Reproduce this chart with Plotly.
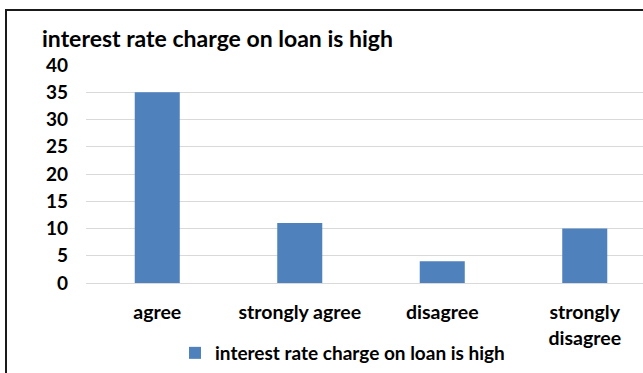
import plotly.graph_objects as go

categories = ["agree", "strongly agree", "disagree", "strongly disagree"]
tick_labels = ["agree", "strongly agree", "disagree", "strongly<br>disagree"]
values = [35, 11, 4, 10]
y_ticks = [0, 5, 10, 15, 20, 25, 30, 35, 40]
series_name = "interest rate charge on loan is high"
title_text = "interest rate charge on loan is high"

FONT = "Lato, Calibri, Carlito, sans-serif"
W, H = 643, 373
L, R, T, B = 86, 0, 65, 90
pw, ph = W - L - R, H - T - B

def px_x(p):
    return (p - L) / pw

def px_y(p):
    return (H - B - p) / ph

fig = go.Figure(
    go.Bar(
        x=categories,
        y=values,
        name="<b>" + series_name + "</b>",
        marker=dict(color="#4f81bd", line=dict(width=0)),
        width=0.316,
        showlegend=True,
    )
)

fig.update_layout(
    width=W,
    height=H,
    margin=dict(l=L, r=R, t=T, b=B, pad=0),
    paper_bgcolor="white",
    plot_bgcolor="white",
    font=dict(family=FONT, color="#000000"),
    title=dict(
        text="<b>" + title_text + "</b>",
        x=42 / W,
        xanchor="left",
        xref="container",
        y=1 - 39 / H,
        yanchor="middle",
        yref="container",
        font=dict(family=FONT, size=23, color="#000000"),
    ),
    xaxis=dict(
        type="category",
        categoryorder="array",
        categoryarray=categories,
        tickvals=categories,
        ticktext=["<b>" + t + "</b>" for t in tick_labels],
        tickfont=dict(family=FONT, size=19.5, color="#000000"),
        range=[-0.5, -0.5 + pw / 142.5],
        showgrid=False,
        showline=True,
        linecolor="#d9d9d9",
        linewidth=1,
        ticks="",
        ticklabelstandoff=12,
        fixedrange=True,
    ),
    yaxis=dict(
        range=[0, 40],
        tickvals=y_ticks,
        ticktext=["<b>%d</b>" % v for v in y_ticks],
        tickfont=dict(family=FONT, size=19, color="#000000"),
        showgrid=True,
        gridcolor="#d9d9d9",
        gridwidth=1,
        zeroline=False,
        showline=False,
        ticks="",
        ticklabelstandoff=17,
        fixedrange=True,
    ),
    legend=dict(
        orientation="h",
        x=px_x(175),
        xanchor="left",
        y=px_y(353),
        yanchor="middle",
        font=dict(family=FONT, size=19, color="#000000"),
        bgcolor="rgba(0,0,0,0)",
        traceorder="normal",
    ),
    shapes=[
        dict(
            type="rect",
            xref="paper",
            yref="paper",
            x0=px_x(6),
            x1=px_x(W + 20),
            y0=px_y(H + 20),
            y1=px_y(10),
            line=dict(color="#1a1a1a", width=2),
            fillcolor="rgba(0,0,0,0)",
            layer="above",
        )
    ],
)

fig.write_html(
    "out.html",
    config={"displayModeBar": False, "staticPlot": False},
    post_script="document.body.style.margin='0';document.body.style.overflow='hidden';",
)
